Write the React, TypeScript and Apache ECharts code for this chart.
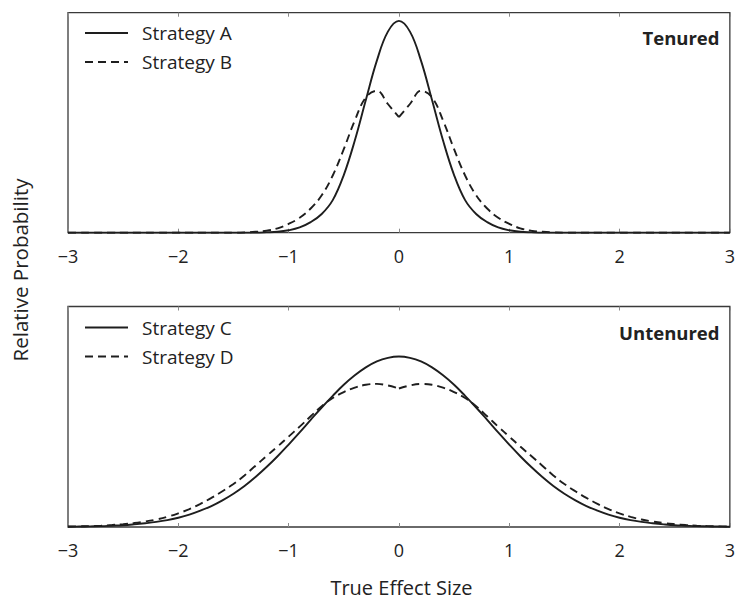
import React, { useEffect, useRef } from "react";
import * as echarts from "echarts";

const xValues = [
  -3, -2.9, -2.8, -2.7, -2.6, -2.5, -2.4, -2.3, -2.2, -2.1,
  -2, -1.9, -1.8, -1.7, -1.6, -1.5, -1.4, -1.3, -1.2, -1.1,
  -1, -0.9, -0.8, -0.7, -0.6, -0.5, -0.4, -0.3, -0.2, -0.1,
  0, 0.1, 0.2, 0.3, 0.4, 0.5, 0.6, 0.7, 0.8, 0.9,
  1, 1.1, 1.2, 1.3, 1.4, 1.5, 1.6, 1.7, 1.8, 1.9,
  2, 2.1, 2.2, 2.3, 2.4, 2.5, 2.6, 2.7, 2.8, 2.9, 3,
];

const strategyA = [
  0, 0, 0, 0, 0, 0, 0, 0, 0, 0,
  0, 0, 0, 0, 0, 0, 0, 0, 0.0015, 0.004,
  0.011, 0.024, 0.048, 0.085, 0.148, 0.262, 0.419, 0.603, 0.782, 0.914,
  0.963, 0.914, 0.782, 0.603, 0.419, 0.262, 0.148, 0.085, 0.048, 0.024,
  0.011, 0.004, 0.0015, 0, 0, 0, 0, 0, 0, 0,
  0, 0, 0, 0, 0, 0, 0, 0, 0, 0, 0,
];

const strategyB = [
  0, 0, 0, 0, 0, 0, 0, 0, 0, 0,
  0, 0, 0, 0, 0, 0, 0.001, 0.004, 0.009, 0.02,
  0.04, 0.068, 0.11, 0.17, 0.26, 0.38, 0.51, 0.615, 0.645, 0.585,
  0.525, 0.585, 0.645, 0.615, 0.51, 0.38, 0.26, 0.17, 0.11, 0.068,
  0.04, 0.02, 0.009, 0.004, 0.001, 0, 0, 0, 0, 0,
  0, 0, 0, 0, 0, 0, 0, 0, 0, 0, 0,
];

const strategyC = [
  0.001, 0.002, 0.003, 0.004, 0.006, 0.008, 0.012, 0.017, 0.023, 0.031,
  0.042, 0.056, 0.074, 0.095, 0.121, 0.151, 0.186, 0.227, 0.272, 0.321,
  0.374, 0.429, 0.486, 0.542, 0.595, 0.645, 0.688, 0.724, 0.751, 0.767,
  0.773, 0.767, 0.751, 0.724, 0.688, 0.645, 0.595, 0.542, 0.486, 0.429,
  0.374, 0.321, 0.272, 0.227, 0.186, 0.151, 0.121, 0.095, 0.074, 0.056,
  0.042, 0.031, 0.023, 0.017, 0.012, 0.008, 0.006, 0.004, 0.003, 0.002, 0.001,
];

const strategyD = [
  0.002, 0.003, 0.004, 0.006, 0.009, 0.013, 0.018, 0.025, 0.034, 0.046,
  0.062, 0.081, 0.105, 0.132, 0.162, 0.195, 0.234, 0.278, 0.322, 0.365,
  0.41, 0.455, 0.502, 0.548, 0.585, 0.612, 0.632, 0.645, 0.649, 0.642,
  0.628, 0.642, 0.649, 0.645, 0.632, 0.612, 0.585, 0.548, 0.502, 0.455,
  0.41, 0.365, 0.322, 0.278, 0.234, 0.195, 0.162, 0.132, 0.105, 0.081,
  0.062, 0.046, 0.034, 0.025, 0.018, 0.013, 0.009, 0.006, 0.004, 0.003, 0.002,
];

const panelLabels = ["Tenured", "Untenured"];
const legendTop = ["Strategy A", "Strategy B"];
const legendBottom = ["Strategy C", "Strategy D"];
const xAxisTitle = "True Effect Size";
const yAxisTitle = "Relative Probability";

const FONT = "'Open Sans', 'Noto Sans', sans-serif";
const INK = "#1e1e1e";
const DASH = [8, 5];

const pairs = (ys: number[], from = 0, to = ys.length) =>
  xValues.slice(from, to).map((x, i) => [x, ys[from + i]]);

const fmt = (v: number) => (v < 0 ? "\u2212" + Math.abs(v) : String(v));

export default function App() {
  const ref = useRef<HTMLDivElement>(null);

  useEffect(() => {
    if (!ref.current) return;
    const chart = echarts.init(ref.current, undefined, { renderer: "svg" });

    const grids = [
      { left: 68, right: 2.5, top: 12.7, height: 220 },
      { left: 68, right: 2.5, top: 306.5, height: 220.5 },
    ].map((g) => ({
      ...g,
      show: true,
      borderColor: "#3a3a3a",
      borderWidth: 1.3,
      backgroundColor: "transparent",
      containLabel: false,
    }));

    const bottomAxis = (gridIndex: number) => ({
      type: "value",
      gridIndex,
      position: "bottom",
      min: -3,
      max: 3,
      interval: 1,
      axisLine: { show: false },
      axisTick: { show: true, inside: true, length: 4, lineStyle: { color: "#8a8a8a" } },
      splitLine: { show: false },
      axisLabel: {
        show: true,
        formatter: fmt,
        margin: 14,
        fontFamily: FONT,
        fontSize: 18,
        color: "#222",
        hideOverlap: false,
      },
    });
    const topAxis = (gridIndex: number) => ({
      type: "value",
      gridIndex,
      position: "top",
      min: -3,
      max: 3,
      interval: 1,
      axisLine: { show: false },
      axisTick: { show: true, inside: true, length: 4, lineStyle: { color: "#8a8a8a" } },
      splitLine: { show: false },
      axisLabel: { show: false },
    });
    const yAxis = (gridIndex: number) => ({
      type: "value",
      gridIndex,
      min: 0,
      max: 1,
      axisLine: { show: false },
      axisTick: { show: false },
      axisLabel: { show: false },
      splitLine: { show: false },
    });

    const lineSeries = (
      name: string,
      data: number[][],
      xAxisIndex: number,
      yAxisIndex: number,
      dashed: boolean
    ) => ({
      type: "line",
      name,
      data,
      xAxisIndex,
      yAxisIndex,
      smooth: 0.4,
      symbol: "none",
      showSymbol: false,
      lineStyle: { color: INK, width: 1.9, type: dashed ? DASH : "solid" },
      itemStyle: { color: INK },
      emphasis: { disabled: true },
    });

    const legend = (names: string[], top: number) => ({
      data: names,
      left: 84,
      top,
      orient: "vertical",
      itemWidth: 43,
      itemHeight: 14,
      itemGap: 7,
      padding: 0,
      selectedMode: false,
      itemStyle: { opacity: 0, borderWidth: 0 },
      textStyle: {
        fontFamily: FONT,
        fontSize: 19,
        color: "#222",
        lineHeight: 22,
        padding: [0, 0, 0, 9],
      },
    });

    chart.setOption({
      animation: false,
      grid: grids,
      xAxis: [bottomAxis(0), topAxis(0), bottomAxis(1), topAxis(1)],
      yAxis: [yAxis(0), yAxis(1)],
      legend: [legend(legendTop, 22), legend(legendBottom, 316.5)],
      series: [
        lineSeries(legendTop[0], pairs(strategyA), 0, 0, false),
        lineSeries(legendTop[1], pairs(strategyB, 0, 31), 0, 0, true),
        lineSeries(legendTop[1], pairs(strategyB, 30, 61), 0, 0, true),
        lineSeries(legendBottom[0], pairs(strategyC), 2, 1, false),
        lineSeries(legendBottom[1], pairs(strategyD, 0, 31), 2, 1, true),
        lineSeries(legendBottom[1], pairs(strategyD, 30, 61), 2, 1, true),
      ],
      graphic: [
        {
          type: "text",
          x: 719.5,
          y: 37,
          style: {
            text: panelLabels[0],
            align: "right",
            verticalAlign: "middle",
            fontFamily: FONT,
            fontWeight: "bold",
            fontSize: 18.5,
            fill: "#222",
          },
        },
        {
          type: "text",
          x: 719.5,
          y: 332.5,
          style: {
            text: panelLabels[1],
            align: "right",
            verticalAlign: "middle",
            fontFamily: FONT,
            fontWeight: "bold",
            fontSize: 18.5,
            fill: "#222",
          },
        },
        {
          type: "text",
          x: 401.5,
          y: 587,
          style: {
            text: xAxisTitle,
            align: "center",
            verticalAlign: "middle",
            fontFamily: FONT,
            fontSize: 20,
            fill: "#222",
          },
        },
        {
          type: "text",
          x: 20,
          y: 270,
          rotation: Math.PI / 2,
          style: {
            text: yAxisTitle,
            align: "center",
            verticalAlign: "middle",
            fontFamily: FONT,
            fontSize: 20.5,
            fill: "#222",
          },
        },
      ],
    });

    return () => chart.dispose();
  }, []);

  return (
    <div
      ref={ref}
      style={{ position: "absolute", left: 0, top: 0, width: 738, height: 603, background: "#fff" }}
    />
  );
}
